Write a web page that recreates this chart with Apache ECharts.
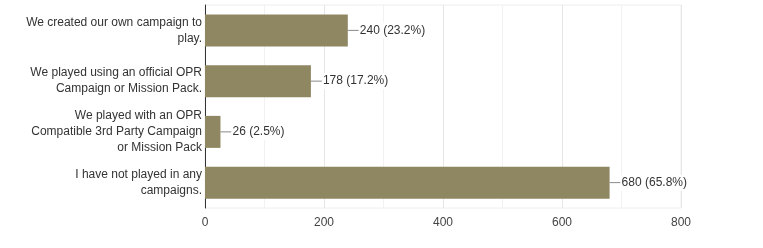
<!DOCTYPE html>
<html><head><meta charset="utf-8">
<script src="https://cdn.jsdelivr.net/npm/echarts@6/dist/echarts.min.js"></script>
<style>html,body{margin:0;padding:0;background:#fff}#c{width:763px;height:248px}</style>
</head><body><div id="c"></div>
<script>
var categories = [
  "We created our own campaign to\nplay.",
  "We played using an official OPR\nCampaign or Mission Pack.",
  "We played with an OPR\nCompatible 3rd Party Campaign\nor Mission Pack",
  "I have not played in any\ncampaigns."
];
var counts = [240, 178, 26, 680];
var percents = ["23.2%", "17.2%", "2.5%", "65.8%"];
var xTicks = [0, 200, 400, 600, 800];

var chart = echarts.init(document.getElementById('c'), null, {renderer: 'canvas'});
chart.setOption({
  animation: false,
  grid: {left: 205, right: 82, top: 5, bottom: 40, containLabel: false,
         show: true, borderColor: '#eeeeee', borderWidth: 1, backgroundColor: 'transparent'},
  xAxis: {
    type: 'value', min: xTicks[0], max: xTicks[xTicks.length - 1], interval: 200,
    axisLine: {show: false}, axisTick: {show: false},
    axisLabel: {color: '#444', fontFamily: 'Liberation Sans, Arial', fontSize: 12, margin: 9},
    splitLine: {show: true, lineStyle: {color: '#e6e6e6', width: 1}},
    minorTick: {show: false, splitNumber: 2},
    minorSplitLine: {show: true, lineStyle: {color: '#f2f2f2', width: 1}}
  },
  yAxis: {
    type: 'category', data: categories, inverse: true,
    axisLine: {show: true, lineStyle: {color: '#333', width: 1}},
    axisTick: {show: false},
    axisLabel: {color: '#333', fontFamily: 'Liberation Sans, Arial', fontSize: 12, lineHeight: 16, margin: 3, align: 'right'},
    splitLine: {show: false}
  },
  series: [{
    type: 'bar',
    data: counts,
    barWidth: 32,
    itemStyle: {color: '#8f8762'},
    label: {
      show: true, position: 'right', distance: 0,
      formatter: function (p) { return '{l|}{t|' + counts[p.dataIndex] + ' (' + percents[p.dataIndex] + ')}'; },
      rich: {
        l: {width: 11, height: 1, backgroundColor: '#888'},
        t: {color: '#333', fontFamily: 'Liberation Sans, Arial', fontSize: 12, backgroundColor: '#fff', padding: [2, 1, 2, 1]}
      }
    }
  }]
});
</script></body></html>
